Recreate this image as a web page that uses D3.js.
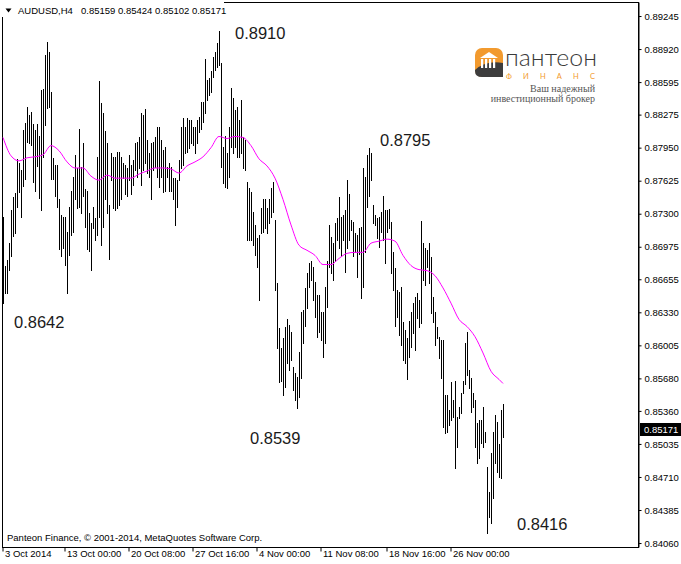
<!DOCTYPE html>
<html><head><meta charset="utf-8">
<script src="https://cdn.jsdelivr.net/npm/d3@7"></script>
<style>
body{margin:0;background:#fff}
svg{display:block}
</style>
</head><body>
<svg id="c" width="681" height="564" font-family="Liberation Sans, Arial, sans-serif"></svg>
<script>
// ---------------- data ----------------
const symbol = "AUDUSD,H4";
const lastOHLC = [0.85159, 0.85424, 0.85102, 0.85171];

// H4 bar highs / lows, oldest -> newest (251 bars)
const highs = [
0.8727,0.8679,0.8684,0.8701,0.8734,0.8746,0.8750,0.8784,0.8780,0.8773,
0.8812,0.8819,0.8835,0.8827,0.8830,0.8818,0.8812,0.8818,0.8806,0.8852,
0.8853,0.8886,0.8899,0.8889,0.8850,0.8785,0.8778,0.8778,0.8744,0.8729,
0.8727,0.8727,0.8712,0.8737,0.8752,0.8766,0.8788,0.8775,0.8813,0.8776,
0.8800,0.8754,0.8752,0.8731,0.8721,0.8737,0.8726,0.8786,0.8861,0.8839,
0.8829,0.8811,0.8800,0.8739,0.8790,0.8786,0.8786,0.8791,0.8791,0.8786,
0.8780,0.8778,0.8775,0.8788,0.8778,0.8783,0.8800,0.8801,0.8805,0.8829,
0.8827,0.8833,0.8803,0.8790,0.8800,0.8801,0.8805,0.8815,0.8815,0.8803,
0.8793,0.8796,0.8776,0.8780,0.8776,0.8765,0.8765,0.8763,0.8783,0.8815,
0.8824,0.8815,0.8824,0.8822,0.8822,0.8815,0.8815,0.8822,0.8825,0.8840,
0.8840,0.8882,0.8862,0.8864,0.8870,0.8884,0.8889,0.8898,0.8910,0.8878,
0.8796,0.8806,0.8790,0.8815,0.8854,0.8844,0.8832,0.8835,0.8822,0.8842,
0.8805,0.8803,0.8761,0.8755,0.8751,0.8732,0.8719,0.8706,0.8709,0.8736,
0.8744,0.8744,0.8736,0.8744,0.8755,0.8761,0.8724,0.8662,0.8618,0.8598,
0.8608,0.8619,0.8626,0.8621,0.8614,0.8579,0.8573,0.8569,0.8594,0.8633,
0.8635,0.8657,0.8672,0.8682,0.8683,0.8678,0.8663,0.8650,0.8650,0.8633,
0.8633,0.8658,0.8683,0.8719,0.8707,0.8701,0.8721,0.8726,0.8746,0.8727,
0.8729,0.8734,0.8763,0.8749,0.8724,0.8722,0.8711,0.8709,0.8716,0.8717,
0.8775,0.8766,0.8788,0.8795,0.8790,0.8739,0.8729,0.8726,0.8727,0.8732,
0.8747,0.8734,0.8734,0.8735,0.8722,0.8692,0.8677,0.8655,0.8653,0.8658,
0.8623,0.8616,0.8608,0.8624,0.8633,0.8642,0.8648,0.8652,0.8645,0.8723,
0.8701,0.8696,0.8694,0.8701,0.8687,0.8648,0.8633,0.8619,0.8609,0.8606,
0.8606,0.8552,0.8552,0.8537,0.8564,0.8547,0.8565,0.8530,0.8540,0.8554,
0.8565,0.8603,0.8614,0.8576,0.8568,0.8554,0.8547,0.8524,0.8527,0.8527,
0.8540,0.8515,0.8481,0.8456,0.8495,0.8515,0.8532,0.8525,0.8503,0.8537,
0.85424
];
const lows = [
0.8642,0.8652,0.8652,0.8675,0.8688,0.8708,0.8711,0.8737,0.8751,0.8727,
0.8757,0.8764,0.8801,0.8800,0.8798,0.8761,0.8752,0.8777,0.8745,0.8734,
0.8786,0.8817,0.8834,0.8835,0.8764,0.8764,0.8747,0.8737,0.8695,0.8688,
0.8696,0.8680,0.8652,0.8689,0.8709,0.8712,0.8744,0.8736,0.8737,0.8731,
0.8747,0.8717,0.8695,0.8693,0.8675,0.8716,0.8704,0.8709,0.8727,0.8699,
0.8717,0.8744,0.8731,0.8685,0.8763,0.8736,0.8734,0.8736,0.8739,0.8744,
0.8765,0.8749,0.8747,0.8763,0.8749,0.8758,0.8773,0.8766,0.8775,0.8758,
0.8773,0.8780,0.8770,0.8766,0.8744,0.8773,0.8776,0.8766,0.8756,0.8766,
0.8751,0.8752,0.8766,0.8752,0.8752,0.8744,0.8719,0.8737,0.8763,0.8775,
0.8778,0.8790,0.8791,0.8795,0.8800,0.8798,0.8790,0.8800,0.8810,0.8813,
0.8820,0.8829,0.8842,0.8847,0.8850,0.8865,0.8871,0.8874,0.8876,0.8776,
0.8760,0.8756,0.8755,0.8766,0.8796,0.8790,0.8796,0.8786,0.8786,0.8790,
0.8775,0.8773,0.8704,0.8704,0.8704,0.8699,0.8689,0.8678,0.8645,0.8711,
0.8712,0.8716,0.8711,0.8721,0.8727,0.8732,0.8655,0.8598,0.8564,0.8565,
0.8552,0.8560,0.8583,0.8576,0.8586,0.8557,0.8547,0.8539,0.8550,0.8568,
0.8603,0.8620,0.8637,0.8658,0.8665,0.8645,0.8628,0.8609,0.8614,0.8606,
0.8589,0.8603,0.8638,0.8678,0.8672,0.8665,0.8683,0.8704,0.8696,0.8688,
0.8704,0.8673,0.8696,0.8704,0.8714,0.8688,0.8692,0.8668,0.8690,0.8647,
0.8658,0.8692,0.8737,0.8747,0.8763,0.8721,0.8719,0.8706,0.8697,0.8712,
0.8704,0.8682,0.8712,0.8716,0.8672,0.8655,0.8620,0.8628,0.8611,0.8601,
0.8586,0.8583,0.8567,0.8589,0.8599,0.8613,0.8596,0.8627,0.8619,0.8622,
0.8665,0.8660,0.8678,0.8662,0.8632,0.8623,0.8601,0.8608,0.8588,0.8568,
0.8520,0.8514,0.8515,0.8522,0.8527,0.8530,0.8480,0.8500,0.8529,0.8534,
0.8554,0.8562,0.8571,0.8559,0.8535,0.8540,0.8500,0.8485,0.8490,0.8504,
0.8500,0.8505,0.8416,0.8432,0.8426,0.8450,0.8485,0.8476,0.8471,0.8470,
0.85102
];

// moving average (magenta), read every 4th bar + last bar
const maBars = d3.range(0, 249, 4).concat([250]);
const maValues = [
0.8805,0.8787,0.8782,0.8785,0.8786,0.8788,0.8797,0.8792,0.8781,0.8775,
0.8775,0.8767,0.8763,0.8768,0.8765,0.8765,0.8765,0.8769,0.8772,0.8775,
0.8775,0.8774,0.8770,0.8777,0.8781,0.8786,0.8795,0.8806,0.8804,0.8806,
0.8805,0.8797,0.8784,0.8777,0.8765,0.8744,0.8719,0.8699,0.8694,0.8689,
0.8680,0.8680,0.8686,0.8691,0.8692,0.8692,0.8701,0.8703,0.8705,0.8703,
0.8689,0.8679,0.8675,0.8674,0.8669,0.8657,0.8642,0.8626,0.8619,0.8609,
0.8593,0.8575,0.8567,0.8563
];

const priceTicks = [0.89245,0.88920,0.88595,0.88275,0.87950,0.87625,0.87300,0.86975,
  0.86655,0.86330,0.86005,0.85680,0.85360,0.85035,0.84710,0.84385,0.84060];
const timeLabels = ["3 Oct 2014","13 Oct 00:00","20 Oct 08:00","27 Oct 16:00",
  "4 Nov 00:00","11 Nov 08:00","18 Nov 16:00","26 Nov 00:00"];
const timeBars = [0,31,63,95,127,159,192,224];

const annoLabels = ["0.8910","0.8795","0.8642","0.8539","0.8416"];
const copyright = "Panteon Finance, \u00A9 2001-2014, MetaQuotes Software Corp.";
const logoName = "пантеон";
const logoSub = "ФИНАНС";
const logoTag = ["Ваш надежный","инвестиционный брокер"];

// ---------------- layout ----------------
const SANS = "Liberation Sans, Arial, sans-serif";
const L = 2, T = 2, R = 638, B = 547;
const annoPos = [[235,39],[380,146],[14,328],[250,444],[517,530]];

const svg = d3.select("#c");
const x = d3.scaleLinear().domain([0, 250]).range([3, 503]);
const y = d3.scaleLinear().domain([0.84021, 0.89383]).range([B, T]);

// frame
svg.append("rect").attr("x", L + 0.5).attr("y", T + 0.5)
  .attr("width", R - L).attr("height", B - T)
  .attr("fill", "#fff").attr("stroke", "#000").attr("shape-rendering", "crispEdges");

// bars
svg.append("g").selectAll("line").data(highs).join("line")
  .attr("x1", (d, i) => Math.round(x(i)) + 0.5)
  .attr("x2", (d, i) => Math.round(x(i)) + 0.5)
  .attr("y1", d => Math.round(y(d)))
  .attr("y2", (d, i) => Math.round(y(lows[i])) + 1)
  .attr("stroke", "#000").attr("stroke-width", 1)
  .attr("shape-rendering", "crispEdges");

// MA
const maLine = d3.line().x((d, i) => x(maBars[i])).y(d => y(d)).curve(d3.curveMonotoneX);
svg.append("path").attr("d", maLine(maValues))
  .attr("fill", "none").attr("stroke", "#ff00ff").attr("stroke-width", 1);

// right axis
const ay = d3.axisRight(y).tickValues(priceTicks).tickFormat(d3.format(".5f"))
  .tickSize(3).tickSizeOuter(0).tickPadding(3);
const gy = svg.append("g").attr("transform", `translate(${R + 0.5},0)`).call(ay);
gy.attr("font-family", SANS).attr("font-size", 9.5);
gy.select(".domain").attr("stroke", "#000");
gy.selectAll(".tick line").attr("stroke", "#000");
gy.selectAll(".tick text").attr("fill", "#000").attr("dy", "0.34em");

// bottom axis
const ax = d3.axisBottom(x).tickValues(timeBars).tickFormat((d, i) => timeLabels[i])
  .tickSize(4).tickSizeOuter(0);
const gx = svg.append("g").attr("transform", `translate(-0.5,${B + 0.5})`).call(ax);
gx.attr("font-family", SANS).attr("font-size", 9.5);
gx.select(".domain").remove();
gx.selectAll(".tick line").attr("stroke", "#000");
gx.selectAll(".tick text").attr("fill", "#000")
  .attr("text-anchor", "start").attr("x", 2).attr("y", 0).attr("dy", "1em");

// current price marker
const cp = lastOHLC[3];
svg.append("rect").attr("x", 640).attr("y", Math.round(y(cp)) - 7)
  .attr("width", 41).attr("height", 13).attr("fill", "#000");
svg.append("text").attr("x", 644).attr("y", y(cp)).attr("dy", "0.34em")
  .attr("font-size", 9.5).attr("fill", "#fff").text(d3.format(".5f")(cp));

// header
svg.append("rect").attr("x", 0).attr("y", 0).attr("width", 224).attr("height", 17).attr("fill", "#fff");
svg.append("path").attr("d", "M5.5,8.5 L11.5,8.5 L8.5,12.5 Z").attr("fill", "#000");
svg.append("text").attr("x", 18).attr("y", 14).attr("font-size", 9.5).attr("fill", "#000").text(symbol);
svg.append("text").attr("x", 81).attr("y", 14).attr("font-size", 9.5).attr("fill", "#000")
  .text(lastOHLC.map(d3.format(".5f")).join(" "));

// annotations
svg.append("g").selectAll("text").data(annoLabels).join("text")
  .attr("x", (d, i) => annoPos[i][0]).attr("y", (d, i) => annoPos[i][1])
  .attr("font-size", 16.5).attr("fill", "#1a1a1a").text(d => d);

// copyright
svg.append("text").attr("x", 7).attr("y", 541).attr("font-size", 9.5).attr("fill", "#000").text(copyright);

// logo
const lg = svg.append("g");
lg.append("rect").attr("x", 475).attr("y", 48).attr("width", 28).attr("height", 29).attr("rx", 7).attr("fill", "#f29a2e");
lg.append("path").attr("d", "M475,70 Q486,60 503,63 L503,77 L482,77 Q475,77 475,71 Z").attr("fill", "#3d3d3d");
lg.append("path").attr("d", "M480,58 L489,52 L498,58 Z").attr("fill", "#fff");
[481, 485, 489, 493].forEach(cx => lg.append("rect").attr("x", cx).attr("y", 59).attr("width", 2.2).attr("height", 9).attr("fill", "#fff"));
lg.append("text").attr("x", 505).attr("y", 66)
  .style("font-family", "Lato, 'Open Sans', sans-serif").style("font-weight", 300)
  .attr("font-size", 23).attr("fill", "#3a3a3a")
  .attr("textLength", 92).attr("lengthAdjust", "spacingAndGlyphs").text(logoName);
lg.append("text").attr("x", 506).attr("y", 79)
  .style("font-family", "Lato, sans-serif")
  .attr("font-size", 7.5).attr("fill", "#f29a2e")
  .attr("textLength", 89).attr("lengthAdjust", "spacing").text(logoSub);
lg.selectAll(".tag").data(logoTag).join("text").attr("class", "tag")
  .attr("x", 595).attr("y", (d, i) => 92 + i * 10)
  .attr("text-anchor", "end").style("font-family", "'Liberation Serif', 'DejaVu Serif', serif")
  .attr("font-size", 10).attr("fill", "#555").text(d => d);
</script>
</body></html>
